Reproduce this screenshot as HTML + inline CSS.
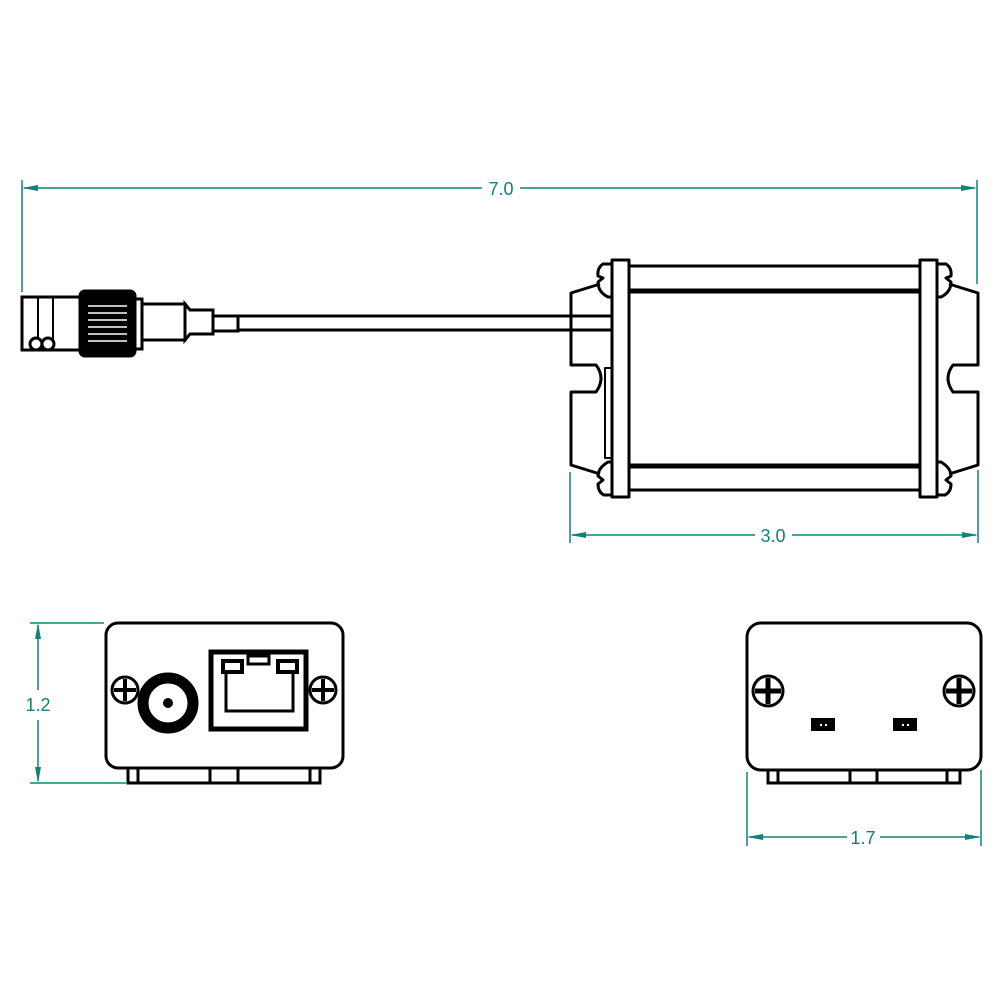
<!DOCTYPE html>
<html><head><style>body{margin:0;background:#fff}svg{display:block}</style></head><body>
<svg width="1000" height="1000" viewBox="0 0 1000 1000" xmlns="http://www.w3.org/2000/svg">
<g stroke="#12807c" stroke-width="1.5" fill="none">
<line x1="22" y1="180" x2="22" y2="292"/><line x1="977" y1="180" x2="977" y2="284"/>
<line x1="24" y1="188" x2="482" y2="188"/><line x1="520" y1="188" x2="975" y2="188"/>
<line x1="570" y1="472" x2="570" y2="543"/><line x1="978" y1="470" x2="978" y2="543"/>
<line x1="572" y1="535" x2="755" y2="535"/><line x1="792" y1="535" x2="976" y2="535"/>
<line x1="30" y1="623" x2="104" y2="623"/><line x1="30" y1="783" x2="126" y2="783"/>
<line x1="38" y1="625" x2="38" y2="690"/><line x1="38" y1="720" x2="38" y2="781"/>
<line x1="747" y1="772" x2="747" y2="846"/><line x1="981" y1="770" x2="981" y2="846"/>
<line x1="749" y1="837" x2="847" y2="837"/><line x1="880" y1="837" x2="979" y2="837"/>
</g>
<g fill="#12807c">
<polygon points="22,188 38,185 38,191"/><polygon points="977,188 961,185 961,191"/>
<polygon points="570,535 586,532 586,538"/><polygon points="978,535 962,532 962,538"/>
<polygon points="38,623 35,639 41,639"/><polygon points="38,783 35,767 41,767"/>
<polygon points="747,837 763,834 763,840"/><polygon points="981,837 965,834 965,840"/>
</g>
<g font-family="Liberation Sans, sans-serif" font-size="18" fill="#12807c" text-anchor="middle">
<text x="501" y="195">7.0</text><text x="773" y="542">3.0</text><text x="38" y="711">1.2</text><text x="863" y="844">1.7</text>
</g>
<g stroke="#000" stroke-width="3" fill="#fff">
<rect x="238" y="316" width="374" height="14"/>
<rect x="213" y="316" width="25" height="15"/>
<path d="M185,304 L190,310 L213,310 L213,334 L190,334 L185,340 Z"/>
<rect x="142" y="304" width="43" height="36"/>
<rect x="135" y="299" width="7" height="50"/>
<rect x="22" y="297" width="58" height="53"/>
<line x1="38" y1="297" x2="38" y2="345" stroke-width="2"/>
<line x1="53" y1="297" x2="53" y2="345" stroke-width="2"/>
<circle cx="36" cy="344" r="6"/><circle cx="48" cy="344" r="6"/>
<rect x="80" y="291" width="55" height="65" rx="5" fill="#000"/>
</g>
<g stroke="#fff" stroke-width="1.5">
<line x1="88" y1="306" x2="127" y2="306"/><line x1="88" y1="313" x2="127" y2="313"/><line x1="88" y1="320" x2="127" y2="320"/><line x1="88" y1="327" x2="127" y2="327"/><line x1="88" y1="334" x2="127" y2="334"/><line x1="88" y1="341" x2="127" y2="341"/>
</g>
<g stroke="#000" stroke-width="3" fill="none" stroke-linejoin="round">
<g id="br">
<path d="M612,264 L603,264 Q597,268 598,276 L603,278 L598,282 Q598,292 608,297 L612,297"/>
<path d="M600,284 L571,293 L571,365 L596,365 Q606,378 596,392 L571,392 L571,465 L600,474"/>
<path d="M612,462 L608,462 Q598,468 598,476 L603,480 L598,484 Q598,492 604,495 L612,495"/>
</g>
<use href="#br" transform="matrix(-1 0 0 1 1549 0)"/>
<rect x="605" y="368" width="7" height="90" stroke-width="2"/>
<line x1="629" y1="266" x2="920" y2="266"/>
<line x1="629" y1="291" x2="920" y2="291" stroke-width="5"/>
<line x1="629" y1="466" x2="920" y2="466" stroke-width="5"/>
<line x1="629" y1="490" x2="920" y2="490"/>
<rect x="612" y="260" width="17" height="237" fill="#fff"/>
<rect x="920" y="260" width="17" height="237" fill="#fff"/>
</g>
<g stroke="#000" stroke-width="3" fill="#fff">
<rect x="128" y="766" width="192" height="17"/>
<line x1="138" y1="768" x2="138" y2="783"/><line x1="210" y1="768" x2="210" y2="783"/><line x1="238" y1="768" x2="238" y2="783"/><line x1="310" y1="768" x2="310" y2="783"/>
<rect x="106" y="623" width="237" height="145" rx="12"/>
<circle cx="125" cy="690" r="13"/><circle cx="323" cy="690" r="13"/>
<circle cx="168" cy="703" r="25" stroke-width="11"/>
<rect x="211" y="652" width="95" height="77" stroke-width="5"/>
<path d="M226,672 L226,711 L293,711 L293,672" stroke-width="3" fill="none"/>
<rect x="223" y="661" width="19" height="11" stroke-width="4"/>
<rect x="278" y="661" width="19" height="11" stroke-width="4"/>
<rect x="248" y="656" width="21" height="8" stroke-width="3"/>
</g>
<circle cx="168" cy="703" r="5" fill="#000"/>
<g stroke="#000" stroke-width="4">
<line x1="114" y1="690" x2="136" y2="690"/><line x1="125" y1="679" x2="125" y2="701"/>
<line x1="312" y1="690" x2="334" y2="690"/><line x1="323" y1="679" x2="323" y2="701"/>
</g>
<g stroke="#000" stroke-width="3" fill="#fff">
<rect x="768" y="768" width="192" height="15"/>
<line x1="778" y1="770" x2="778" y2="783"/><line x1="850" y1="770" x2="850" y2="783"/><line x1="877" y1="770" x2="877" y2="783"/><line x1="947" y1="770" x2="947" y2="783"/>
<rect x="747" y="623" width="234" height="147" rx="14"/>
<circle cx="768" cy="691" r="15"/><circle cx="959" cy="691" r="15"/>
</g>
<g stroke="#000" stroke-width="5">
<line x1="755" y1="691" x2="781" y2="691"/><line x1="768" y1="678" x2="768" y2="704"/>
<line x1="946" y1="691" x2="972" y2="691"/><line x1="959" y1="678" x2="959" y2="704"/>
</g>
<rect x="811" y="718" width="24" height="13" fill="#000"/>
<rect x="893" y="718" width="24" height="13" fill="#000"/>
<g fill="#fff"><rect x="820" y="724" width="2" height="2"/><rect x="825" y="724" width="2" height="2"/><rect x="902" y="724" width="2" height="2"/><rect x="907" y="724" width="2" height="2"/></g>
</svg>
</body></html>
